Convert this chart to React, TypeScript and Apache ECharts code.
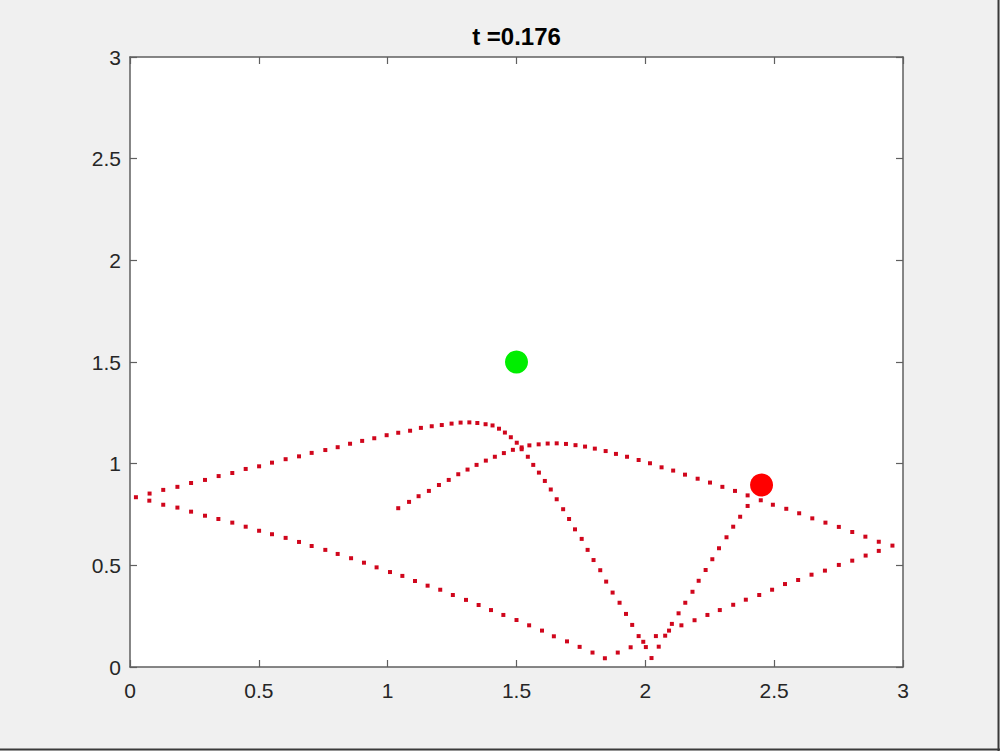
import React, { useEffect, useRef } from "react";
import * as echarts from "echarts";

// Trail of the moving body (one dot per time step)
const trailX = [
  1.041, 1.083, 1.120, 1.160, 1.199, 1.237, 1.274, 1.310, 1.345, 1.381, 1.416, 1.451, 1.486, 1.520, 1.550, 1.586,
  1.621, 1.656, 1.692, 1.729, 1.766, 1.804, 1.846, 1.886, 1.929, 1.974, 2.018, 2.063, 2.108, 2.154, 2.203, 2.251,
  2.299, 2.348, 2.397, 2.448, 2.495, 2.547, 2.597, 2.648, 2.699, 2.751, 2.803, 2.854, 2.906, 2.959,
  2.906, 2.855, 2.803, 2.751, 2.697, 2.645, 2.593, 2.542, 2.492, 2.442, 2.390, 2.341, 2.289, 2.241, 2.191, 2.140,
  2.092, 2.041, 1.992, 1.943, 1.893, 1.843,
  1.795, 1.745, 1.696, 1.645, 1.599, 1.549, 1.500, 1.449, 1.401, 1.353, 1.304, 1.253, 1.204, 1.155, 1.106, 1.057,
  1.009, 0.957, 0.908, 0.858, 0.806, 0.758, 0.705, 0.656, 0.604, 0.551, 0.501, 0.449, 0.397, 0.343, 0.291, 0.237,
  0.184, 0.129, 0.075, 0.023,
  0.076, 0.129, 0.184, 0.237, 0.291, 0.344, 0.397, 0.449, 0.501, 0.551, 0.604, 0.656, 0.705, 0.758, 0.806, 0.854,
  0.901, 0.948, 0.996, 1.041, 1.087, 1.129, 1.171, 1.210, 1.248, 1.283, 1.317, 1.348, 1.380, 1.407, 1.432, 1.455,
  1.478, 1.501, 1.520, 1.544, 1.565, 1.587, 1.610, 1.633, 1.656, 1.681, 1.704, 1.727, 1.753, 1.776, 1.799, 1.825,
  1.848, 1.873, 1.900, 1.925, 1.949, 1.974, 2.002, 2.024,
  2.052, 2.077, 2.103, 2.129, 2.155, 2.183, 2.207, 2.234, 2.260, 2.286, 2.315, 2.341, 2.368, 2.397,
];
const trailY = [
  0.781, 0.812, 0.840, 0.866, 0.895, 0.920, 0.948, 0.971, 0.994, 1.015, 1.034, 1.052, 1.068, 1.080, 1.090, 1.095,
  1.099, 1.100, 1.097, 1.091, 1.084, 1.074, 1.062, 1.048, 1.034, 1.018, 1.002, 0.982, 0.966, 0.946, 0.926, 0.907,
  0.886, 0.866, 0.844, 0.820, 0.798, 0.778, 0.756, 0.731, 0.710, 0.689, 0.664, 0.641, 0.616, 0.597,
  0.571, 0.548, 0.523, 0.502, 0.474, 0.454, 0.428, 0.408, 0.380, 0.354, 0.331, 0.306, 0.280, 0.256, 0.230, 0.205,
  0.179, 0.152, 0.124, 0.097, 0.071, 0.043,
  0.071, 0.099, 0.126, 0.151, 0.179, 0.205, 0.231, 0.256, 0.280, 0.305, 0.330, 0.354, 0.380, 0.400, 0.423, 0.448,
  0.467, 0.490, 0.513, 0.535, 0.556, 0.576, 0.595, 0.615, 0.635, 0.653, 0.670, 0.690, 0.710, 0.728, 0.744, 0.764,
  0.784, 0.798, 0.818, 0.835,
  0.853, 0.871, 0.886, 0.905, 0.920, 0.939, 0.954, 0.974, 0.987, 1.005, 1.022, 1.036, 1.053, 1.067, 1.081, 1.098,
  1.112, 1.125, 1.140, 1.152, 1.162, 1.176, 1.184, 1.190, 1.197, 1.202, 1.203, 1.200, 1.194, 1.188, 1.172, 1.153,
  1.130, 1.103, 1.071, 1.034, 0.994, 0.956, 0.915, 0.873, 0.825, 0.776, 0.728, 0.677, 0.630, 0.576, 0.526, 0.476,
  0.420, 0.366, 0.316, 0.261, 0.207, 0.152, 0.098, 0.044,
  0.100, 0.154, 0.212, 0.264, 0.316, 0.370, 0.424, 0.477, 0.530, 0.584, 0.638, 0.690, 0.739, 0.792,
];
const fixedBody = [1.5, 1.5];
const movingBody = [2.451, 0.895];
const titleText = "t =0.176";
const tickValues = [0, 0.5, 1, 1.5, 2, 2.5, 3];

const FONT = "'Liberation Sans', Arial, Helvetica, sans-serif";
const AXIS_COLOR = "#5f5f5f";
const TEXT_COLOR = "#262626";

export default function App() {
  const ref = useRef<HTMLDivElement>(null);

  useEffect(() => {
    if (!ref.current) return;
    const chart = echarts.init(ref.current, undefined, { renderer: "svg" });
    const trail = trailX.map((x, i) => [x, trailY[i]]);
    const axisCommon = (showLabels: boolean, pos: string) => ({
      type: "value" as const,
      min: tickValues[0],
      max: tickValues[tickValues.length - 1],
      interval: 0.5,
      position: pos,
      axisLine: { show: true, onZero: false, lineStyle: { color: AXIS_COLOR, width: 1.5 } },
      axisTick: { show: true, inside: true, length: 7, lineStyle: { color: AXIS_COLOR, width: 1.2 } },
      splitLine: { show: false },
      axisLabel: {
        show: showLabels,
        fontSize: 21,
        fontFamily: FONT,
        color: TEXT_COLOR,
        showMinLabel: true,
        showMaxLabel: true,
        margin: pos === "bottom" ? 13 : 9,
      },
    });
    chart.setOption({
      animation: false,
      backgroundColor: "#f0f0f0",
      grid: {
        left: 130,
        right: 97,
        top: 57,
        bottom: 84,
        show: true,
        backgroundColor: "#ffffff",
        borderWidth: 0,
      },
      xAxis: [axisCommon(true, "bottom"), axisCommon(false, "top")],
      yAxis: [axisCommon(true, "left"), axisCommon(false, "right")],
      graphic: [
        {
          type: "text",
          x: 516.5,
          y: 36,
          style: {
            text: titleText,
            fontSize: 24,
            fontWeight: "bold",
            fontFamily: FONT,
            fill: "#000000",
            align: "center",
            verticalAlign: "middle",
          },
        },
        { type: "line", shape: { x1: 0, y1: 749.5, x2: 1000, y2: 749.5 }, style: { stroke: "#3a3a3a", lineWidth: 2 } },
        { type: "line", shape: { x1: 998.5, y1: 0, x2: 998.5, y2: 751 }, style: { stroke: "#3a3a3a", lineWidth: 2 } },
      ],
      series: [
        {
          type: "scatter",
          xAxisIndex: 0,
          yAxisIndex: 0,
          data: trail,
          symbol: "rect",
          symbolSize: 4,
          itemStyle: { color: "#d0061c", opacity: 1 },
          silent: true,
          z: 2,
        },
        {
          type: "scatter",
          xAxisIndex: 0,
          yAxisIndex: 0,
          data: [fixedBody],
          symbol: "circle",
          symbolSize: 23,
          itemStyle: { color: "#00ee00", opacity: 1 },
          silent: true,
          z: 3,
        },
        {
          type: "scatter",
          xAxisIndex: 0,
          yAxisIndex: 0,
          data: [movingBody],
          symbol: "circle",
          symbolSize: 23,
          itemStyle: { color: "#ff0000", opacity: 1 },
          silent: true,
          z: 4,
        },
      ],
    });
    return () => chart.dispose();
  }, []);

  return (
    <div
      ref={ref}
      style={{ position: "absolute", left: 0, top: 0, width: 1000, height: 751 }}
    />
  );
}
